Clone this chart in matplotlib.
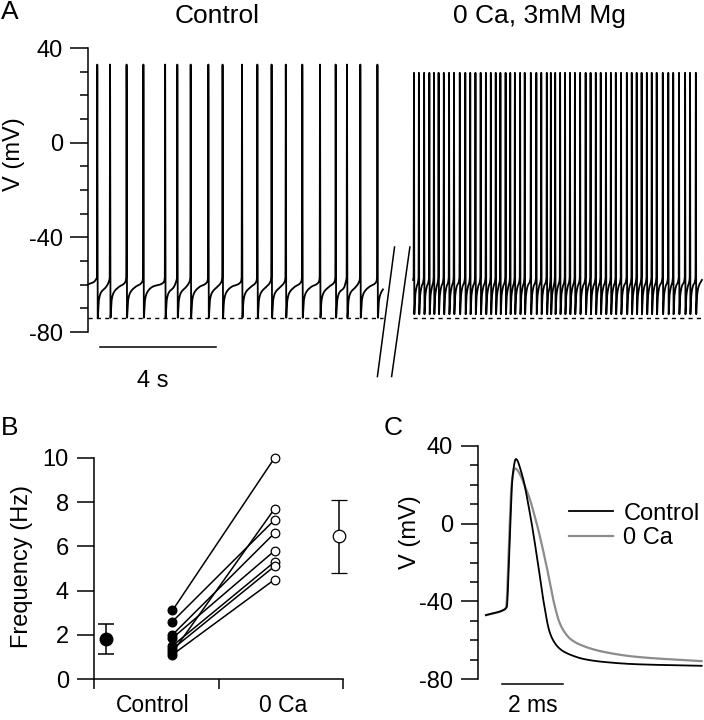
import numpy as np
import matplotlib
matplotlib.use("Agg")
import matplotlib.pyplot as plt
from matplotlib.lines import Line2D

plt.rcParams['font.family'] = ['Liberation Sans', 'DejaVu Sans']
plt.rcParams['axes.unicode_minus'] = False

# ---------------- data ----------------
# Panel A: spike times (s)
ctrl_spikes = [0.32, 0.76, 1.33, 1.91, 2.66, 3.08, 3.54, 4.15, 4.64, 5.31,
               5.84, 6.33, 6.82, 7.39, 8.00, 8.54, 8.93, 9.39, 9.98]
ctrl_span = [0.0, 10.17]
ctrl_peak = 33.0
ctrl_trough = -74.0
ctrl_threshold = -57.0
# after-hyperpolarisation recovery: (time after spike, V)
ctrl_ahp_tau = [0.015, 0.05, 0.12, 0.30]
ctrl_ahp_v = [-74.0, -67.0, -63.5, -61.0]
ctrl_pre_v = -59.0

ca0_spikes = [11.24, 11.41, 11.59, 11.77, 11.93, 12.09, 12.27, 12.45, 12.62, 12.82,
              13.01, 13.18, 13.36, 13.54, 13.72, 13.89, 14.06, 14.22, 14.40, 14.56,
              14.72, 14.90, 15.06, 15.27, 15.46, 15.63, 15.82, 15.96, 16.11, 16.28,
              16.45, 16.62, 16.79, 16.97, 17.16, 17.33, 17.51, 17.68, 17.86, 18.03,
              18.20, 18.38, 18.58, 18.75, 18.92, 19.09, 19.27, 19.44, 19.61, 19.82,
              20.01, 20.18, 20.38, 20.59, 20.76, 20.96]
ca0_span = [11.21, 21.17]
ca0_peak = 29.5
ca0_threshold = -57.0
ca0_ahp_tau = [0.012, 0.04, 0.09]
ca0_ahp_v = [-72.5, -65.0, -61.0]
rest_line = -74.0

# Panel B: firing frequency (Hz), paired cells
freq_control = [3.1, 2.6, 1.2, 2.0, 1.85, 1.5, 1.35, 1.1]
freq_0ca = [10.0, 7.2, 7.7, 6.6, 5.8, 5.3, 5.1, 4.5]
mean_control, err_control = 1.82, 0.67
mean_0ca, err_0ca = 6.45, 1.67
groups = ['Control', '0 Ca']

# Panel C: single action potentials (ms, mV)
ap_ctrl_t = [0.0, 0.57, 0.68, 0.77, 0.87, 0.98, 1.17, 1.44, 1.72, 1.88, 2.08, 2.20,
             2.34, 2.52, 2.78, 3.20, 3.85, 4.94, 7.07]
ap_ctrl_v = [-47.1, -44.5, -43.0, -11.9, 24.2, 33.3, 25.9, 5.3, -22.2, -39.4, -55.5,
             -60.0, -63.2, -65.6, -67.6, -69.7, -71.2, -72.4, -73.2]
ap_0ca_t = [0.0, 0.57, 0.66, 0.75, 0.84, 0.94, 1.33, 1.66, 1.99, 2.26, 2.40, 2.58,
            2.80, 3.19, 3.85, 4.94, 7.07]
ap_0ca_v = [-47.1, -44.5, -43.0, -12.0, 20.0, 28.5, 17.3, 0.2, -22.2, -42.8, -50.5,
            -56.0, -59.8, -63.0, -66.0, -68.6, -70.8]


def pchip(x, y, xn):
    x = np.asarray(x, float)
    y = np.asarray(y, float)
    h = np.diff(x)
    d = np.diff(y) / h
    m = np.zeros_like(y)
    for k in range(1, len(x) - 1):
        if d[k - 1] * d[k] > 0:
            w1 = 2 * h[k] + h[k - 1]
            w2 = h[k] + 2 * h[k - 1]
            m[k] = (w1 + w2) / (w1 / d[k - 1] + w2 / d[k])
    m[0] = d[0]
    m[-1] = d[-1]
    idx = np.clip(np.searchsorted(x, xn) - 1, 0, len(h) - 1)
    t = (xn - x[idx]) / h[idx]
    h00 = 2 * t**3 - 3 * t**2 + 1
    h10 = t**3 - 2 * t**2 + t
    h01 = -2 * t**3 + 3 * t**2
    h11 = t**3 - t**2
    return (h00 * y[idx] + h10 * h[idx] * m[idx] + h01 * y[idx + 1]
            + h11 * h[idx] * m[idx + 1])


def build_trace(spikes, span, peak, thr, ahp_tau, ahp_v, pre_v, start_v, end_v):
    kt = [span[0]]
    kv = [start_v]
    for i, ts in enumerate(spikes):
        if kt[-1] < ts - 0.012:
            kt.append(ts - 0.012)
            kv.append(thr)
        kt.append(ts)
        kv.append(peak)
        nxt = spikes[i + 1] if i + 1 < len(spikes) else span[1] + 1.0
        for tau, v in zip(ahp_tau, ahp_v):
            if ts + tau < min(nxt - 0.05, span[1]):
                kt.append(ts + tau)
                kv.append(v)
        if pre_v is not None and i + 1 < len(spikes) and nxt - 0.05 > kt[-1]:
            kt.append(nxt - 0.05)
            kv.append(pre_v)
    if kt[-1] < span[1]:
        kt.append(span[1])
        kv.append(end_v)
    return np.array(kt), np.array(kv)


fig = plt.figure(figsize=(7.04, 7.2), dpi=100)
W, H = 704.0, 720.0


def px_axes(x0, y0, x1, y1):
    return fig.add_axes([x0 / W, 1 - y1 / H, (x1 - x0) / W, (y1 - y0) / H])


def ftext(x, y, s, **kw):
    fig.text(x / W, 1 - y / H, s, **kw)


FS = 17
TFS = 19
LW = 1.1

# ---------------- Panel A ----------------
axA = px_axes(88, 48, 702, 332)
axA.set_xlim(0, (702 - 88) / 29.0)
axA.set_ylim(-80, 40)
for s in ['top', 'right', 'bottom']:
    axA.spines[s].set_visible(False)
axA.spines['left'].set_linewidth(LW)
axA.set_xticks([])
axA.set_yticks([40, 0, -40, -80])
axA.set_yticks(np.arange(-80, 41, 10), minor=True)
axA.tick_params(axis='y', which='major', length=13, width=LW, pad=5, labelsize=FS)
axA.tick_params(axis='y', which='minor', length=6, width=LW)

kt, kv = build_trace(ctrl_spikes, ctrl_span, ctrl_peak, ctrl_threshold,
                     ctrl_ahp_tau, ctrl_ahp_v, ctrl_pre_v, -60.0, -62.0)
tt = np.linspace(kt[0], kt[-1], 40000)
axA.plot(tt, pchip(kt, kv, tt), color='black', lw=1.3, clip_on=False)
kt2, kv2 = build_trace(ca0_spikes, ca0_span, ca0_peak, ca0_threshold,
                       ca0_ahp_tau, ca0_ahp_v, None, -58.0, -58.0)
tt2 = np.linspace(kt2[0], kt2[-1], 60000)
axA.plot(tt2, pchip(kt2, kv2, tt2), color='black', lw=1.3, clip_on=False)

axA.plot(ctrl_span, [rest_line, rest_line], color='black', lw=1.0, ls=(0, (3, 3)))
axA.plot(ca0_span, [rest_line, rest_line], color='black', lw=1.0, ls=(0, (3, 3)))

# axis break marks
for (xa, xb) in [(10.57, 9.98), (11.10, 10.47)]:
    axA.add_line(Line2D([xa, xb], [-44.1, -98.8], color='black', lw=1.1, clip_on=False))

# 4 s scale bar
axA.add_line(Line2D([0.41, 4.41], [-86.4, -86.4], color='black', lw=1.1, clip_on=False))
ftext(153, 381, '4 s', ha='center', va='center', fontsize=FS)

ftext(217, 16, 'Control', ha='center', va='center', fontsize=TFS)
ftext(539, 16, '0 Ca, 3mM Mg', ha='center', va='center', fontsize=TFS)
ftext(14, 154, 'V (mV)', ha='center', va='center', rotation=90, fontsize=FS)
ftext(10, 12, 'A', ha='center', va='center', fontsize=TFS)

# ---------------- Panel B ----------------
axB = px_axes(94, 458, 343, 679)
axB.set_xlim(0, 2)
axB.set_ylim(0, 10)
for s in ['top', 'right']:
    axB.spines[s].set_visible(False)
axB.spines['left'].set_linewidth(LW)
axB.spines['bottom'].set_linewidth(LW)
axB.set_yticks([0, 2, 4, 6, 8, 10])
axB.tick_params(axis='y', length=12, width=LW, pad=6, labelsize=FS)
axB.set_xticks([0, 1, 2])
axB.set_xticklabels([])
axB.tick_params(axis='x', which='major', length=7, width=LW)
axB.set_xticks([0.47, 1.52], minor=True)
axB.set_xticklabels(groups, minor=True)
axB.tick_params(axis='x', which='minor', length=0, pad=11, labelsize=16.5)

x_ctrl, x_0ca = 0.63, 1.45
for a, b in zip(freq_control, freq_0ca):
    axB.plot([x_ctrl, x_0ca], [a, b], color='black', lw=1.1, zorder=2)
axB.plot([x_ctrl] * len(freq_control), freq_control, 'o', ms=6.2, mfc='black',
         mec='black', zorder=3, clip_on=False)
axB.plot([x_0ca] * len(freq_0ca), freq_0ca, 'o', ms=6.2, mfc='white',
         mec='black', mew=0.9, zorder=3, clip_on=False)
axB.errorbar([0.1], [mean_control], yerr=[err_control], fmt='o', ms=9, mfc='black',
             mec='black', ecolor='black', elinewidth=1.1, capsize=6, capthick=1.1)
axB.errorbar([1.97], [mean_0ca], yerr=[err_0ca], fmt='o', ms=9, mfc='white',
             mec='black', mew=0.9, ecolor='black', elinewidth=1.1, capsize=6,
             capthick=1.1, clip_on=False)
ftext(22, 567, 'Frequency (Hz)', ha='center', va='center', rotation=90, fontsize=FS)
ftext(10, 428, 'B', ha='center', va='center', fontsize=TFS)

# ---------------- Panel C ----------------
axC = px_axes(478, 446, 702, 679)
axC.set_xlim(-8 / 30.5, (702 - 486) / 30.5)
axC.set_ylim(-80, 40)
for s in ['top', 'right', 'bottom']:
    axC.spines[s].set_visible(False)
axC.spines['left'].set_linewidth(LW)
axC.set_xticks([])
axC.set_yticks([40, 0, -40, -80])
axC.set_yticks(np.arange(-80, 41, 10), minor=True)
axC.tick_params(axis='y', which='major', length=12, width=LW, pad=6, labelsize=FS)
axC.tick_params(axis='y', which='minor', length=6, width=LW)

tc = np.linspace(0, ap_ctrl_t[-1], 2000)
l1, = axC.plot(tc, pchip(ap_0ca_t, ap_0ca_v, tc), color='#8c8c8c', lw=1.6,
               label='0 Ca', clip_on=False)
l0, = axC.plot(tc, pchip(ap_ctrl_t, ap_ctrl_v, tc), color='black', lw=1.3,
               label='Control', clip_on=False)
axC.legend(handles=[l0, l1], loc='center left', frameon=False, fontsize=FS,
           bbox_to_anchor=(569 / W, 1 - 526 / H), bbox_transform=fig.transFigure,
           borderpad=0, borderaxespad=0, handlelength=1.85, handletextpad=0.45,
           labelspacing=0.12)
axC.add_line(Line2D([0.52, 2.52], [-82.7, -82.7], color='black', lw=1.1, clip_on=False))
ftext(533, 706, '2 ms', ha='center', va='center', fontsize=16.5)
ftext(410, 532, 'V (mV)', ha='center', va='center', rotation=90, fontsize=FS)
ftext(393, 428, 'C', ha='center', va='center', fontsize=TFS)

fig.savefig('out.png', dpi=100)
